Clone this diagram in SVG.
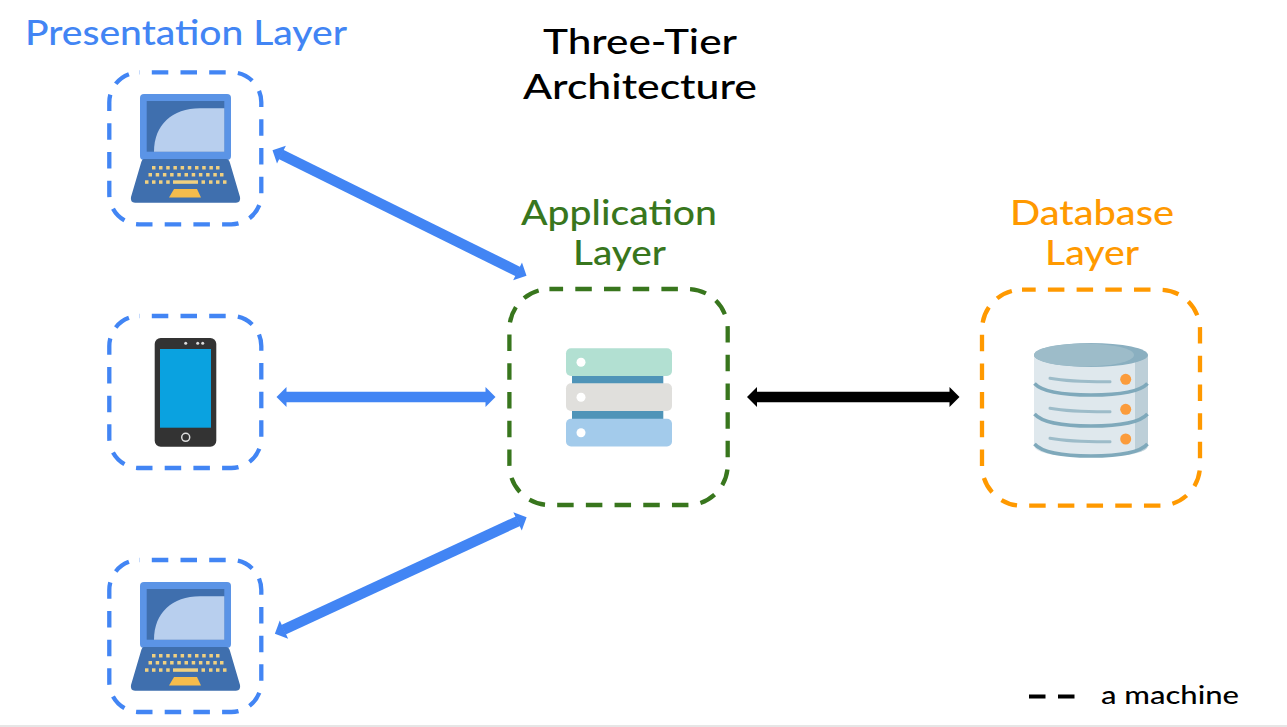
<svg xmlns="http://www.w3.org/2000/svg" xmlns:xlink="http://www.w3.org/1999/xlink" width="1287" height="727" viewBox="0 0 1287 727">
<style>
text{font-family:"Lato","Noto Sans",sans-serif;font-size:34px;font-weight:500}
.box{fill:none;stroke-width:4.300;stroke-dasharray:16.500 12.200}
.small{stroke-dashoffset:-12.500}
.large{stroke-dashoffset:2.800}
.blue{fill:#4285f4}.bluebox{stroke:#4285f4}
.green{fill:#38761d}.greenbox{stroke:#38761d}
.orange{fill:#ff9900}.orangebox{stroke:#ff9900}
.conn{fill:none;stroke-width:10.500}
.key{fill:#f0d080}
.band{fill:none;stroke:#7fa9bb;stroke-width:3.500}
.bar{fill:none;stroke:#9dbcc9;stroke-width:3;stroke-linecap:round}
.led{fill:#fb9c3c}
</style>
<defs>
<marker id="hb" markerUnits="userSpaceOnUse" markerWidth="14" markerHeight="24" refX="0.500" refY="12" orient="auto-start-reverse" overflow="visible"><path d="M0 2L10 12L0 22Z" fill="#4285f4"/></marker>
<marker id="hk" markerUnits="userSpaceOnUse" markerWidth="14" markerHeight="24" refX="0.500" refY="12" orient="auto-start-reverse" overflow="visible"><path d="M0 2L10 12L0 22Z" fill="#000"/></marker>
<g id="laptop">
<rect x="140" y="94" width="91" height="66" rx="4" fill="#5b94e6"/>
<rect x="146.700" y="101" width="77.600" height="50.700" fill="#3f6fae"/>
<path d="M154 151.700C154 125 172 108.300 200 108.300H224.300V151.700Z" fill="#b8cfee"/>
<path d="M144 159H226Q229 159 230 163L240 197Q241 202.700 236 202.700H135Q130 202.700 131 197L141 163Q142 159 144 159Z" fill="#3f6fae"/>
<path d="M174 189H197L201 197.500H169Z" fill="#f5bc4c"/>
<g class="key">
<rect x="152" y="166" width="3.500" height="3.500"/><rect x="159" y="166" width="3.500" height="3.500"/><rect x="166.200" y="166" width="3.500" height="3.500"/><rect x="173.400" y="166" width="3.500" height="3.500"/><rect x="180.600" y="166" width="3.500" height="3.500"/><rect x="187.800" y="166" width="3.500" height="3.500"/><rect x="195" y="166" width="3.500" height="3.500"/><rect x="202.200" y="166" width="3.500" height="3.500"/><rect x="209.400" y="166" width="3.500" height="3.500"/><rect x="216" y="166" width="3.500" height="3.500"/>
<rect x="148.500" y="173" width="3.500" height="3.500"/><rect x="155.700" y="173" width="3.500" height="3.500"/><rect x="162.900" y="173" width="3.500" height="3.500"/><rect x="170.100" y="173" width="3.500" height="3.500"/><rect x="177.300" y="173" width="3.500" height="3.500"/><rect x="184.500" y="173" width="3.500" height="3.500"/><rect x="191.700" y="173" width="3.500" height="3.500"/><rect x="198.900" y="173" width="3.500" height="3.500"/><rect x="206.100" y="173" width="3.500" height="3.500"/><rect x="213.300" y="173" width="3.500" height="3.500"/><rect x="220" y="173" width="3.500" height="3.500"/>
<rect x="145" y="180.300" width="3.500" height="3.500"/><rect x="152" y="180.300" width="3.500" height="3.500"/><rect x="159" y="180.300" width="3.500" height="3.500"/><rect x="166.200" y="180.300" width="3.500" height="3.500"/><rect x="173" y="180.300" width="25" height="3.500"/><rect x="201.500" y="180.300" width="3.500" height="3.500"/><rect x="209" y="180.300" width="3.500" height="3.500"/><rect x="216" y="180.300" width="3.500" height="3.500"/><rect x="223" y="180.300" width="3.500" height="3.500"/>
</g>
</g>
</defs>
<rect width="1287" height="727" fill="#fff"/>
<rect y="725" width="1287" height="2" fill="#e6e6e6"/>

<g id="title"><text x="640" y="54" text-anchor="middle" fill="#000" textLength="194" lengthAdjust="spacingAndGlyphs">Three-Tier</text><text x="640" y="99" text-anchor="middle" fill="#000" textLength="234" lengthAdjust="spacingAndGlyphs">Architecture</text></g>
<g id="presentation-label"><text x="25" y="45" class="blue" textLength="322" lengthAdjust="spacingAndGlyphs">Presentation Layer</text></g>
<g id="application-label"><text x="521" y="225" class="green" textLength="196" lengthAdjust="spacingAndGlyphs">Application</text><text x="573" y="265" class="green" textLength="93" lengthAdjust="spacingAndGlyphs">Layer</text></g>
<g id="database-label"><text x="1010" y="225" class="orange" textLength="164" lengthAdjust="spacingAndGlyphs">Database</text><text x="1045" y="265" class="orange" textLength="94" lengthAdjust="spacingAndGlyphs">Layer</text></g>

<g id="connectors">
<path class="conn" stroke="#4285f4" d="M281 154.400L518 271.600" marker-start="url(#hb)" marker-end="url(#hb)"/>
<path class="conn" stroke="#4285f4" d="M286 397H486" marker-start="url(#hb)" marker-end="url(#hb)"/>
<path class="conn" stroke="#4285f4" d="M283.500 629.800L518 521.200" marker-start="url(#hb)" marker-end="url(#hb)"/>
<path class="conn" stroke="#000" d="M756.500 397H950" marker-start="url(#hk)" marker-end="url(#hk)"/>
</g>

<g id="laptop-top"><rect class="box small bluebox" x="109.300" y="72.300" width="152" height="152" rx="30"/><use xlink:href="#laptop" href="#laptop"/></g>
<g id="phone"><rect class="box small bluebox" x="109.300" y="316" width="152" height="152" rx="30"/>
<rect x="154.700" y="338" width="61.600" height="108.700" rx="6" fill="#333"/>
<rect x="160" y="349" width="51" height="78.700" fill="#0aa2e0"/>
<circle cx="185.700" cy="437.300" r="4" fill="none" stroke="#ddd" stroke-width="1.500"/>
<circle cx="185.700" cy="343.300" r="1.500" fill="#ddd"/><circle cx="197.700" cy="343.300" r="1.500" fill="#ddd"/><circle cx="202.700" cy="343.300" r="1.500" fill="#ddd"/>
</g>
<g id="laptop-bottom"><rect class="box small bluebox" x="109.300" y="560" width="152" height="152" rx="30"/><use xlink:href="#laptop" href="#laptop" y="488"/></g>

<g id="application"><rect class="box large greenbox" x="509.400" y="289" width="218.300" height="216" rx="40"/>
<rect x="572" y="376" width="91.300" height="8" fill="#4f94b8"/><rect x="572" y="411" width="91.300" height="8" fill="#4f94b8"/>
<rect x="566" y="348.300" width="106" height="27.700" rx="5" fill="#b2e0d2"/>
<rect x="566" y="383.300" width="106" height="27.700" rx="5" fill="#e0dfdc"/>
<rect x="566" y="418.700" width="106" height="27.700" rx="5" fill="#a3cbeb"/>
<circle cx="581" cy="362.300" r="4.500" fill="#fff"/><circle cx="581" cy="397.300" r="4.500" fill="#fff"/><circle cx="581" cy="432.700" r="4.500" fill="#fff"/>
</g>

<g id="database"><rect class="box large orangebox" x="982" y="289.700" width="218" height="216" rx="40"/>
<path d="M1034 355V445Q1034 457 1091 457Q1148 457 1148 445V355Z" fill="#dfe8ed"/>
<path d="M1135 355H1148V445Q1148 451 1135 453Z" fill="#bdcfd8"/>
<ellipse cx="1091" cy="355" rx="57" ry="12" fill="#8aafc0"/>
<ellipse cx="1084" cy="355" rx="50" ry="11.500" fill="#9dbcc9"/>
<path class="band" d="M1034.500 383.500Q1045 395 1091 395Q1137 395 1147.500 383.500"/>
<path class="band" d="M1034.500 414Q1045 426 1091 426Q1137 426 1147.500 414"/>
<path class="band" d="M1034.500 444Q1045 456 1091 456Q1137 456 1147.500 444"/>
<path class="bar" d="M1050 378.300Q1070 382 1110 381.800"/><path class="bar" d="M1050 408.300Q1070 412 1110 411.800"/><path class="bar" d="M1050 438.300Q1070 442 1110 441.800"/>
<circle class="led" cx="1125.700" cy="379.300" r="5.500"/><circle class="led" cx="1125.700" cy="409.300" r="5.500"/><circle class="led" cx="1125.700" cy="439" r="5.500"/>
</g>

<g id="legend"><path d="M1029 696.500H1075" stroke="#000" stroke-width="4" stroke-dasharray="16.500 12.500" fill="none"/><text x="1101" y="704" fill="#000" style="font-size:25px" textLength="138" lengthAdjust="spacingAndGlyphs">a machine</text></g>
</svg>
